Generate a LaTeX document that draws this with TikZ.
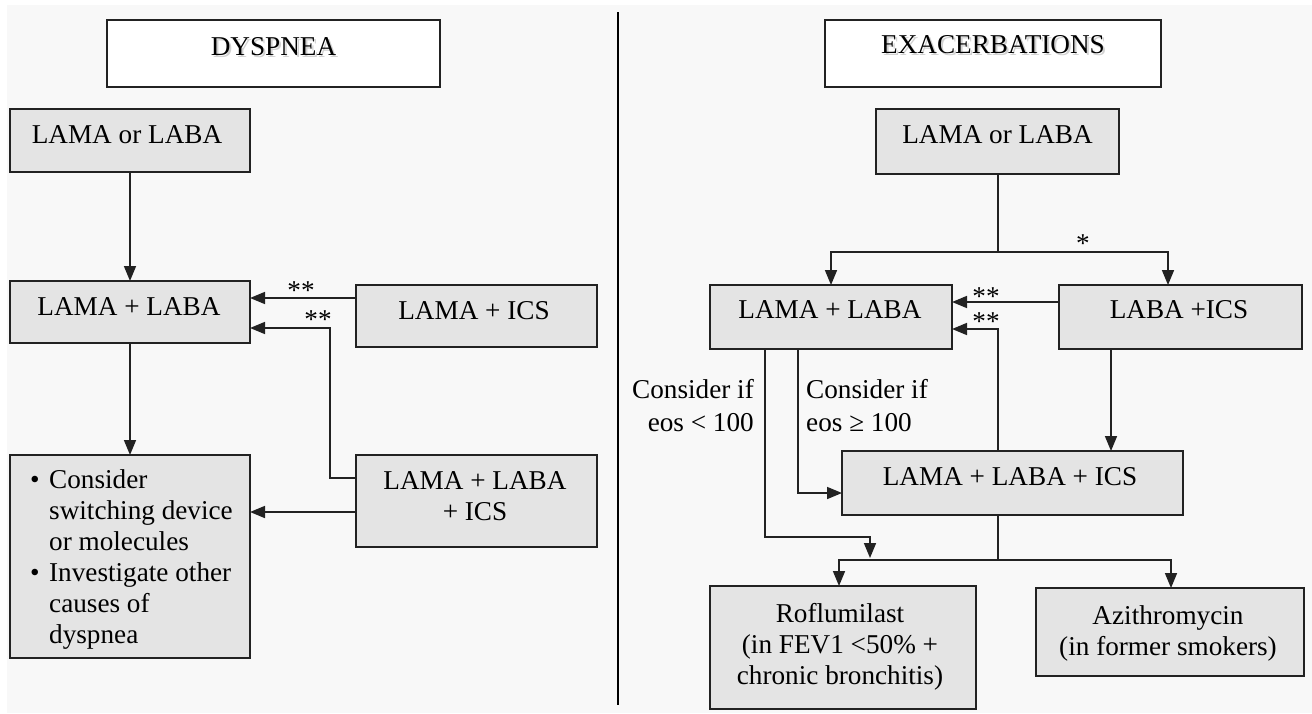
\documentclass[tikz,border=0pt]{standalone}
\usepackage{fontspec}
\setmainfont{Liberation Serif}
\usetikzlibrary{arrows.meta,calc}
\newcommand{\fsz}{\fontsize{27.2}{31}\selectfont}
\definecolor{bgc}{HTML}{F8F8F8}
\definecolor{boxfill}{HTML}{E4E4E4}
\definecolor{ln}{HTML}{222222}
\begin{document}
\begin{tikzpicture}[x=1pt,y=-1pt,
  box/.style={draw=ln, line width=1.8pt, fill=boxfill, inner sep=0pt, outer sep=0pt},
  hdbox/.style={box, fill=white},
  txt/.style={font=\fsz, align=center, inner sep=0pt, text=black},
  shadowtxt/.style={txt, text=black!18},
  conn/.style={draw=ln, line width=1.6pt},
  arr/.style={conn, -{Triangle[length=15pt,width=12pt]}},
]
\useasboundingbox (0,0) rectangle (1312,713);
\fill[white] (0,0) rectangle (1312,713);
\fill[bgc] (7,5) rectangle (1312,713);

% divider
\draw[line width=1.8pt, black] (618,12) -- (618,705);

% level coordinates
\foreach \v in {252,298,302,328,329,478,493,512,537,558,560}{\coordinate (y\v) at (0,\v);}
\foreach \v in {330,765,798,839,870,998,1111,1168,1171}{\coordinate (x\v) at (\v,0);}

% ---------------- left: dyspnea ----------------
\node[hdbox, minimum width=333pt, minimum height=67pt] (hd1) at (273.5,53.5) {};
\node[shadowtxt] (hd1s) at (275.5,51.4) {\strut DYSPNEA};
\node[txt] (hd1t) at (273.5,49.4) {\strut DYSPNEA};

\node[box, minimum width=240pt, minimum height=63pt] (a1) at (130,140.5) {};
\node[txt] (a1t) at (127,137.4) {\strut LAMA or LABA};

\node[box, minimum width=240pt, minimum height=62pt] (a2) at (130,312) {};
\node[txt] (a2t) at (129,309.4) {\strut LAMA + LABA};

\node[box, minimum width=241pt, minimum height=62pt] (a3) at (476.5,316) {};
\node[txt] (a3t) at (474,313.4) {\strut LAMA + ICS};

\node[box, minimum width=241pt, minimum height=92pt] (a4) at (476.5,501) {};
\node[txt] (a4t) at (475,499) {\strut LAMA + LABA\\+ ICS\strut};

\node[box, minimum width=240pt, minimum height=203pt] (a5) at (130,556.5) {};
\node[txt, align=left, anchor=west] (a5t) at (30,560)
  {\strut\makebox[19pt][l]{\textbullet}Consider\\
   \hspace*{19pt}switching device\\
   \hspace*{19pt}or molecules\\
   \makebox[19pt][l]{\textbullet}Investigate other\\
   \hspace*{19pt}causes of\\
   \hspace*{19pt}dyspnea\strut};

\draw[arr] (a1.south) -- (a2.north);
\draw[arr] (a2.south) -- (a5.north);
\draw[arr] (a3.west |- y298) -- (a2.east |- y298);
\draw[arr] (a4.west |- y478) -| (x330 |- y328) -- (a2.east |- y328);
\draw[arr] (a4.west |- y512) -- (a5.east |- y512);
\node[txt, anchor=base] (s1) at (301,299) {**};
\node[txt, anchor=base] (s2) at (318,328) {**};

% ---------------- right: exacerbations ----------------
\node[hdbox, minimum width=336pt, minimum height=67pt] (hd2) at (993,53.5) {};
\node[shadowtxt] (hd2s) at (995,49.4) {\strut EXACERBATIONS};
\node[txt] (hd2t) at (993,47.4) {\strut EXACERBATIONS};

\node[box, minimum width=243pt, minimum height=65pt] (b1) at (997.5,141.5) {};
\node[txt] (b1t) at (997.5,137.4) {\strut LAMA or LABA};

\node[box, minimum width=242pt, minimum height=64pt] (b2) at (831,317) {};
\node[txt] (b2t) at (830,312.4) {\strut LAMA + LABA};

\node[box, minimum width=243pt, minimum height=64pt] (b3) at (1180.5,317) {};
\node[txt] (b3t) at (1179,312.4) {\strut LABA +ICS};

\node[box, minimum width=341pt, minimum height=64pt] (b4) at (1012.5,483) {};
\node[txt] (b4t) at (1010,479.4) {\strut LAMA + LABA + ICS};

\node[box, minimum width=266pt, minimum height=123pt] (b5) at (843,647.5) {};
\node[txt] (b5t) at (840,647.4) {\strut Roflumilast\\(in FEV1 <50\% +\\chronic bronchitis)\strut};

\node[box, minimum width=268pt, minimum height=88pt] (b6) at (1170,632) {};
\node[txt] (b6t) at (1168,633.4) {\strut Azithromycin\\(in former smokers)\strut};

\draw[conn] (b1.south -| x998) -- (x998 |- y252);
\draw[arr] (x998 |- y252) -| (b2.north);
\draw[arr] (x998 |- y252) -| (x1168 |- b3.north);
\node[txt, anchor=base] (s3) at (1083,252) {*};

\draw[arr] (b3.west |- y302) -- (b2.east |- y302);
\draw[arr] (x998 |- b4.north) |- (b2.east |- y329);
\node[txt, anchor=base] (s4) at (986,305) {**};
\node[txt, anchor=base] (s5) at (986,330) {**};

\draw[arr] (x1111 |- b3.south) -- (x1111 |- b4.north);
\draw[arr] (x798 |- b2.south) |- (b4.west |- y493);
\draw[arr] (x765 |- b2.south) |- (x870 |- y537) -- (x870 |- y558);

\draw[conn] (x998 |- b4.south) -- (x998 |- y560);
\draw[arr] (x998 |- y560) -| (x839 |- b5.north);
\draw[arr] (x998 |- y560) -| (x1171 |- b6.north);

\node[txt, align=right, anchor=east] (l1) at (754,409) {\strut Consider if\\[2pt]eos < 100\strut};
\node[txt, align=left, anchor=west] (l2) at (806,409) {\strut Consider if\\[2pt]eos ≥ 100\strut};
\end{tikzpicture}
\end{document}
